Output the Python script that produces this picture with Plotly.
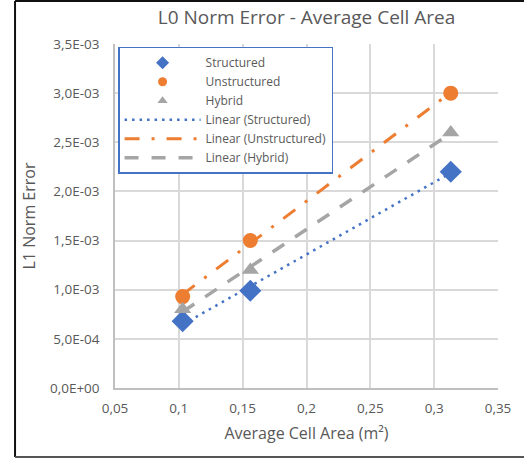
import numpy as np
import plotly.graph_objects as go

# Data
area_structured = [0.103, 0.156, 0.313]
err_structured = [6.8e-4, 9.9e-4, 2.2e-3]
area_unstructured = [0.103, 0.156, 0.313]
err_unstructured = [9.3e-4, 1.5e-3, 3.0e-3]
area_hybrid = [0.103, 0.156, 0.313]
err_hybrid = [8.0e-4, 1.2e-3, 2.6e-3]

x_tickvals = [0.05, 0.1, 0.15, 0.2, 0.25, 0.3, 0.35]
x_ticktext = ["0,05", "0,1", "0,15", "0,2", "0,25", "0,3", "0,35"]
y_tickvals = [0, 5e-4, 1e-3, 1.5e-3, 2e-3, 2.5e-3, 3e-3, 3.5e-3]
y_ticktext = ["0,0E+00", "5,0E-04", "1,0E-03", "1,5E-03", "2,0E-03", "2,5E-03", "3,0E-03", "3,5E-03"]

BLUE = "#4472C4"
ORANGE = "#ED7D31"
GRAY = "#A5A5A5"
TXT = "#595959"
FONT = "Open Sans"


def fit(x, y):
    x = np.array(x); y = np.array(y)
    m, b = np.polyfit(x, y, 1)
    xs = np.array([x.min(), x.max()])
    return xs, m * xs + b


fig = go.Figure()
series = [
    ("Structured", area_structured, err_structured, "diamond", 17, BLUE, 10),
    ("Unstructured", area_unstructured, err_unstructured, "circle", 15, ORANGE, 9),
    ("Hybrid", area_hybrid, err_hybrid, "triangle-up", 15, GRAY, 9),
]
for name, x, y, sym, size, col, lsize in series:
    fig.add_trace(go.Scatter(x=x, y=y, mode="markers", name=name, showlegend=False,
                             marker=dict(symbol=sym, size=size, color=col)))
# legend-only entries with smaller symbols
for name, x, y, sym, size, col, lsize in series:
    fig.add_trace(go.Scatter(x=[None], y=[None], mode="markers", name=name,
                             marker=dict(symbol=sym, size=lsize, color=col)))

xs, ys = fit(area_structured, err_structured)
fig.add_trace(go.Scatter(x=xs, y=ys, mode="lines", name="Linear (Structured)",
                         line=dict(color=BLUE, width=2.5, dash="2.5px,5px")))
xs, ys = fit(area_unstructured, err_unstructured)
fig.add_trace(go.Scatter(x=xs, y=ys, mode="lines", name="Linear (Unstructured)",
                         line=dict(color=ORANGE, width=3, dash="15px,12px,3px,12px")))
xs, ys = fit(area_hybrid, err_hybrid)
fig.add_trace(go.Scatter(x=xs, y=ys, mode="lines", name="Linear (Hybrid)",
                         line=dict(color=GRAY, width=3.5, dash="14px,13px")))

fig.update_layout(
    width=524, height=459,
    margin=dict(l=115, r=26, t=44, b=71),
    paper_bgcolor="white", plot_bgcolor="white",
    font=dict(family=FONT, color=TXT, size=12),
    title=dict(text="L0 Norm Error - Average Cell Area", x=0.585, xanchor="center",
               y=0.963, yanchor="middle", font=dict(size=19, color=TXT)),
    showlegend=True,
    legend=dict(x=0.008, y=0.992, xanchor="left", yanchor="top",
                bgcolor="white", bordercolor=BLUE, borderwidth=1.5,
                font=dict(size=12, color=TXT), itemwidth=76, tracegroupgap=0),
    xaxis=dict(range=[0.05, 0.35], tickvals=x_tickvals, ticktext=x_ticktext,
               showgrid=True, gridcolor="#D9D9D9", gridwidth=1.5,
               showline=True, linecolor="#BFBFBF", linewidth=1.5,
               zeroline=False, ticks="", ticklabelstandoff=7,
               tickfont=dict(size=13.5, color=TXT),
               title=dict(text="Average Cell Area (m²)", font=dict(size=16, color=TXT), standoff=12)),
    yaxis=dict(range=[0, 3.5e-3], tickvals=y_tickvals, ticktext=y_ticktext,
               showgrid=True, gridcolor="#D9D9D9", gridwidth=1.5,
               showline=True, linecolor="#BFBFBF", linewidth=1.5,
               zeroline=False, ticks="", ticklabelstandoff=11,
               tickfont=dict(size=13.5, color=TXT),
               title=dict(text="L1 Norm Error", font=dict(size=16, color=TXT), standoff=10)),
)

# Outer chart frame: left, top and bottom edges only
L, T, B, R = -0.261, 1.125, -0.2006, 1.2
fig.add_shape(type="line", xref="paper", yref="paper", x0=L, x1=L, y0=B, y1=T,
              line=dict(color="#111111", width=2), layer="below")
fig.add_shape(type="line", xref="paper", yref="paper", x0=L, x1=R, y0=T, y1=T,
              line=dict(color="#111111", width=2), layer="below")
fig.add_shape(type="line", xref="paper", yref="paper", x0=L, x1=R, y0=B, y1=B,
              line=dict(color="#555555", width=2), layer="below")

fig.write_html("out.html")
